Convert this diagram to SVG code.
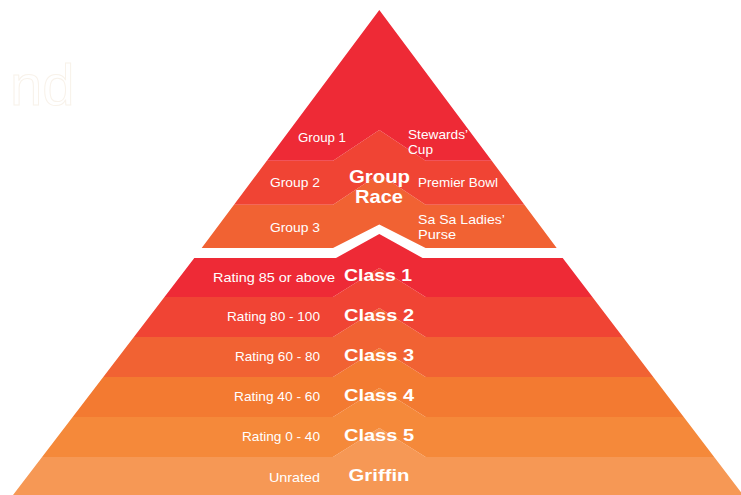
<svg xmlns="http://www.w3.org/2000/svg" width="741" height="495" viewBox="0 0 741 495">
  <defs>
    <clipPath id="clipUpper">
      <polygon points="379.3,10 556.7,248 425.6,248 379.3,224.5 333,248 201.7,248"/>
    </clipPath>
    <clipPath id="clipLower">
      <polygon points="194.3,258 336,258 379.3,234 422.6,258 562.7,258 743,495 13,495"/>
    </clipPath>
  </defs>
  <style>
    .lbl { font-family: "Liberation Sans", Arial, sans-serif; font-size: 13px; fill: #ffffff; }
    .ttl { font-family: "Liberation Sans", Arial, sans-serif; font-weight: bold; fill: #ffffff; }
    .c1 { fill: #EE2A36; }
    .c2 { fill: #F04434; }
    .c3 { fill: #F16233; }
    .c4 { fill: #F37A31; }
    .c5 { fill: #F5893A; }
    .c6 { fill: #F69855; }
  </style>
  <rect width="741" height="495" fill="#ffffff"/>
  <text x="10" y="105" font-family="'Liberation Sans', Arial, sans-serif" font-size="58" fill="#ffffff" stroke="#f8f2ea" stroke-width="1">nd</text>

  <g id="group-race" clip-path="url(#clipUpper)">
    <g id="group-3">
      <polygon class="c3" points="0,204.7 333,204.7 379.3,174 425.6,204.7 741,204.7 741,260 0,260"/>
      <text class="lbl" x="270" y="231.5" textLength="50" lengthAdjust="spacingAndGlyphs">Group 3</text>
      <text class="lbl" x="418" y="224" textLength="87" lengthAdjust="spacingAndGlyphs">Sa Sa Ladies’</text>
      <text class="lbl" x="418" y="238.5" textLength="38" lengthAdjust="spacingAndGlyphs">Purse</text>
    </g>
    <g id="group-2">
      <polygon class="c2" points="0,160.7 333,160.7 379.3,130 425.6,160.7 741,160.7 741,204.7 425.6,204.7 379.3,174 333,204.7 0,204.7"/>
      <text class="lbl" x="270" y="187" textLength="50" lengthAdjust="spacingAndGlyphs">Group 2</text>
      <text class="lbl" x="418" y="187" textLength="80" lengthAdjust="spacingAndGlyphs">Premier Bowl</text>
    </g>
    <g id="group-1">
      <polygon class="c1" points="0,0 741,0 741,160.7 425.6,160.7 379.3,130 333,160.7 0,160.7"/>
      <text class="lbl" x="298" y="141.5" textLength="48" lengthAdjust="spacingAndGlyphs">Group 1</text>
      <text class="lbl" x="408" y="139" textLength="60" lengthAdjust="spacingAndGlyphs">Stewards’</text>
      <text class="lbl" x="408" y="154" textLength="25" lengthAdjust="spacingAndGlyphs">Cup</text>
    </g>
    <g id="group-race-title">
      <text class="ttl" x="379.5" y="182.5" font-size="19" text-anchor="middle" textLength="61" lengthAdjust="spacingAndGlyphs">Group</text>
      <text class="ttl" x="379" y="202.5" font-size="19" text-anchor="middle" textLength="48" lengthAdjust="spacingAndGlyphs">Race</text>
    </g>
  </g>

  <g id="classes" clip-path="url(#clipLower)">
    <g id="griffin">
      <polygon class="c6" points="0,457 333,457 379.3,428 425.6,457 741,457 741,500 0,500"/>
      <text class="lbl" x="320" y="481.5" text-anchor="end" textLength="51" lengthAdjust="spacingAndGlyphs">Unrated</text>
      <text class="ttl" x="379" y="480.7" font-size="17" text-anchor="middle" textLength="61" lengthAdjust="spacingAndGlyphs">Griffin</text>
    </g>
    <g id="class-5">
      <polygon class="c5" points="0,417 333,417 379.3,388 425.6,417 741,417 741,457 425.6,457 379.3,428 333,457 0,457"/>
      <text class="lbl" x="320" y="440.5" text-anchor="end" textLength="78" lengthAdjust="spacingAndGlyphs">Rating 0 - 40</text>
      <text class="ttl" x="379" y="441" font-size="17" text-anchor="middle" textLength="70" lengthAdjust="spacingAndGlyphs">Class 5</text>
    </g>
    <g id="class-4">
      <polygon class="c4" points="0,377 333,377 379.3,348 425.6,377 741,377 741,417 425.6,417 379.3,388 333,417 0,417"/>
      <text class="lbl" x="320" y="401" text-anchor="end" textLength="86" lengthAdjust="spacingAndGlyphs">Rating 40 - 60</text>
      <text class="ttl" x="379" y="401" font-size="17" text-anchor="middle" textLength="70" lengthAdjust="spacingAndGlyphs">Class 4</text>
    </g>
    <g id="class-3">
      <polygon class="c3" points="0,337 333,337 379.3,308 425.6,337 741,337 741,377 425.6,377 379.3,348 333,377 0,377"/>
      <text class="lbl" x="320" y="361" text-anchor="end" textLength="85" lengthAdjust="spacingAndGlyphs">Rating 60 - 80</text>
      <text class="ttl" x="379" y="360.7" font-size="17" text-anchor="middle" textLength="70" lengthAdjust="spacingAndGlyphs">Class 3</text>
    </g>
    <g id="class-2">
      <polygon class="c2" points="0,297 333,297 379.3,268 425.6,297 741,297 741,337 425.6,337 379.3,308 333,337 0,337"/>
      <text class="lbl" x="320" y="321" text-anchor="end" textLength="93" lengthAdjust="spacingAndGlyphs">Rating 80 - 100</text>
      <text class="ttl" x="379" y="321" font-size="17" text-anchor="middle" textLength="70" lengthAdjust="spacingAndGlyphs">Class 2</text>
    </g>
    <g id="class-1">
      <polygon class="c1" points="0,220 741,220 741,297 425.6,297 379.3,268 333,297 0,297"/>
      <text class="lbl" x="335" y="281.5" text-anchor="end" textLength="122" lengthAdjust="spacingAndGlyphs">Rating 85 or  above</text>
      <text class="ttl" x="378" y="280.7" font-size="17" text-anchor="middle" textLength="68" lengthAdjust="spacingAndGlyphs">Class 1</text>
    </g>
  </g>
  <g id="connectors"/>
</svg>
